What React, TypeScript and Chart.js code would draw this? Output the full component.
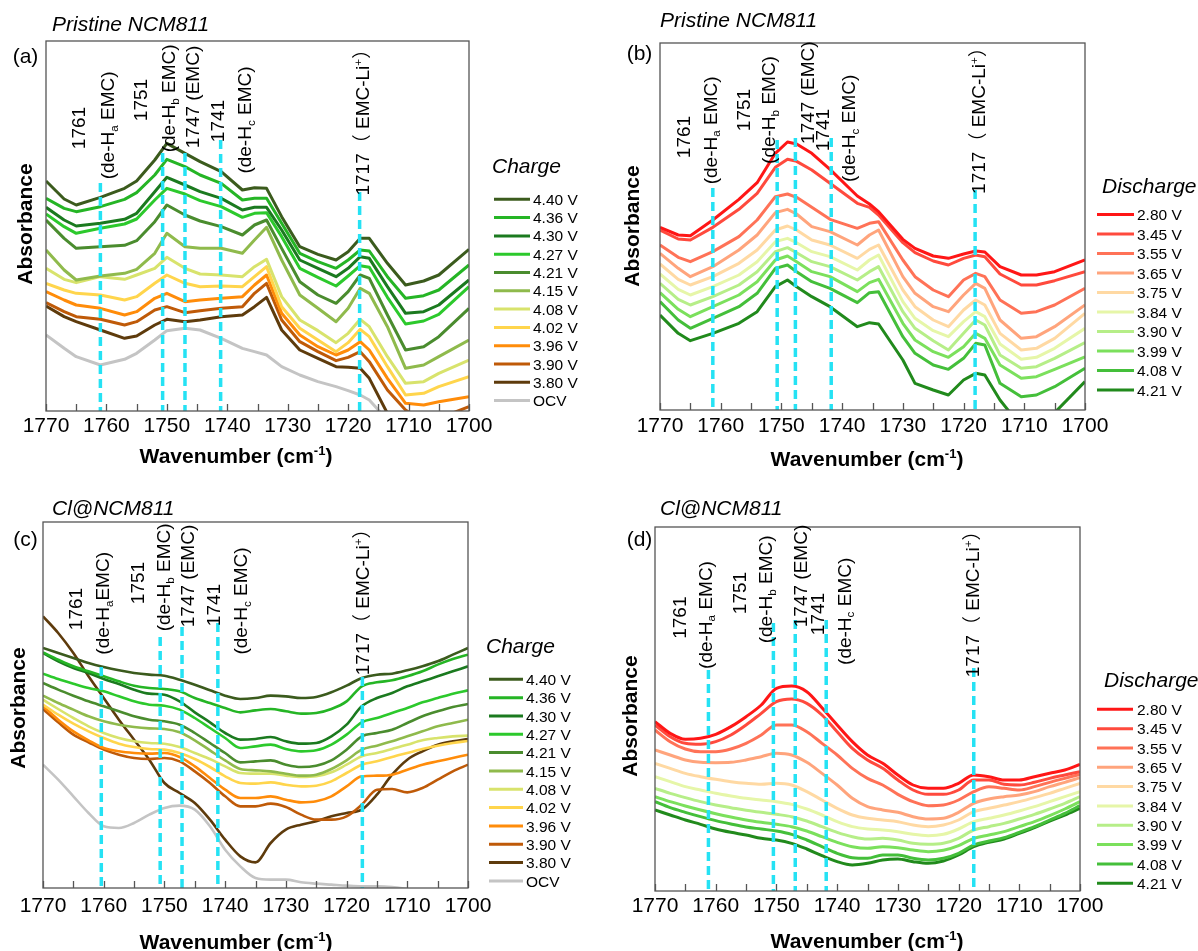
import React, { useEffect, useRef } from "react";
import { Chart, registerables } from "chart.js";

Chart.register(...registerables);

const FAMILY = '"Liberation Sans", Arial, "Noto Sans CJK SC", sans-serif';

// ---------------- shared ----------------
const X_TICK_LABELS = [1700, 1710, 1720, 1730, 1740, 1750, 1760, 1770];
const CHARGE_NAMES = ["4.40 V", "4.36 V", "4.30 V", "4.27 V", "4.21 V", "4.15 V", "4.08 V", "4.02 V", "3.96 V", "3.90 V", "3.80 V", "OCV"];
const CHARGE_COLORS = ["#3b5b1d", "#25b525", "#1b7a1f", "#2cc92c", "#4a8c2e", "#8fba4c", "#d8e36c", "#ffd54c", "#ff8c0a", "#bf5a08", "#5e3b0c", "#c4c4c4"];
const DISCHARGE_NAMES = ["2.80 V", "3.45 V", "3.55 V", "3.65 V", "3.75 V", "3.84 V", "3.90 V", "3.99 V", "4.08 V", "4.21 V"];
const DISCHARGE_COLORS = ["#ff1616", "#ff4a3d", "#ff7257", "#ffa47c", "#ffd9a3", "#e6f6a8", "#b6ee88", "#7be05c", "#44bf3a", "#218a1c"];
const DASH_COLOR = "#25e2f4";

// ---------------- panel (a): Pristine NCM811, charge ----------------
const A_WN = [1770, 1767, 1765, 1761, 1757, 1755, 1752, 1750, 1747, 1744.5, 1741, 1737.5, 1735.5, 1733.5, 1731, 1728, 1725, 1722, 1720, 1718, 1716.5, 1713.5, 1710.5, 1707.5, 1705, 1700];
const A_440 = [69.0, 63.6, 61.8, 64.1, 66.8, 69.0, 75.3, 80.3, 77.3, 74.8, 71.8, 66.3, 67.0, 66.8, 58.3, 49.3, 47.0, 45.3, 47.8, 51.8, 51.8, 44.3, 37.8, 39.0, 40.8, 48.5];
const A_436 = [63.8, 60.8, 59.8, 61.3, 63.5, 65.5, 70.8, 75.5, 73.3, 70.8, 68.3, 63.3, 63.8, 63.8, 56.3, 47.3, 44.8, 42.8, 45.3, 48.3, 48.0, 40.3, 33.8, 34.6, 36.3, 43.8];
const A_430 = [61.1, 57.3, 55.5, 56.3, 57.5, 59.3, 65.8, 70.1, 67.8, 65.8, 63.8, 60.3, 61.1, 61.1, 54.3, 45.3, 42.8, 40.3, 42.8, 46.3, 45.8, 37.3, 29.3, 29.8, 31.8, 39.3];
const A_427 = [59.1, 55.3, 53.3, 54.8, 56.1, 57.6, 63.3, 66.8, 65.1, 63.1, 61.3, 58.1, 59.3, 59.5, 52.3, 42.8, 40.1, 37.5, 40.5, 43.6, 43.1, 34.1, 26.1, 27.0, 29.0, 37.3];
const A_421 = [57.3, 51.8, 48.8, 49.3, 49.7, 51.1, 56.8, 61.8, 58.8, 57.0, 55.3, 52.8, 55.8, 57.3, 48.8, 38.8, 34.8, 32.3, 35.8, 40.8, 39.8, 28.8, 18.3, 19.3, 22.3, 30.8];
const A_415 = [48.3, 42.3, 39.3, 40.5, 41.3, 42.5, 47.3, 53.3, 49.3, 48.8, 48.8, 47.3, 51.3, 55.1, 45.3, 34.8, 30.8, 26.8, 30.8, 36.8, 35.3, 25.3, 12.8, 13.8, 16.3, 21.3];
const A_408 = [42.8, 39.5, 38.5, 40.3, 39.5, 40.8, 42.8, 46.1, 42.8, 41.1, 40.8, 40.3, 43.3, 45.5, 34.3, 27.3, 24.1, 20.5, 23.3, 27.5, 25.3, 16.3, 8.3, 8.8, 11.3, 15.3];
const A_402 = [38.3, 36.3, 35.3, 34.8, 33.3, 34.3, 38.3, 40.8, 38.3, 37.3, 37.5, 37.3, 40.3, 43.3, 31.3, 24.8, 21.3, 17.8, 20.5, 24.5, 22.3, 13.3, 4.8, 5.3, 7.3, 10.3];
const A_396 = [35.8, 33.3, 31.8, 30.8, 28.8, 29.8, 33.8, 35.3, 32.8, 33.3, 33.8, 34.3, 37.8, 40.8, 29.3, 22.8, 19.3, 16.8, 18.3, 20.8, 18.3, 9.8, 2.3, 1.8, 2.8, 4.3];
const A_390 = [32.5, 29.8, 28.3, 27.5, 25.8, 26.8, 30.3, 31.3, 29.5, 30.1, 30.8, 31.3, 35.3, 38.3, 27.3, 20.8, 17.8, 15.1, 16.1, 17.8, 14.8, 6.3, 0.3, -3.2, -2.2, 1.3];
const A_380 = [31.5, 28.3, 26.8, 24.3, 21.8, 22.5, 25.8, 27.5, 26.8, 27.3, 28.3, 28.8, 31.3, 34.1, 24.3, 18.3, 15.8, 13.3, 13.1, 12.8, 9.8, -0.7, -8.7, -10.7, -7.7, -2.7];
const A_OCV = [22.8, 18.8, 16.3, 13.8, 15.5, 17.3, 21.3, 24.1, 24.8, 24.3, 21.8, 18.8, 17.8, 16.8, 13.3, 10.8, 8.8, 7.3, 6.1, 4.8, 3.3, -2.7, -7.7, -11.7, -12.7, -12.7];
const A_DASH_X = [1761, 1750.7, 1747, 1741.1, 1718.1];
const A_DASH_TOP = [68.4, 77.4, 77.4, 81.3, 65.7];

// ---------------- panel (b): Pristine NCM811, discharge ----------------
const B_WN = [1770, 1767, 1765, 1761.3, 1757, 1754, 1751, 1749, 1747.5, 1745, 1742, 1737.5, 1735.5, 1734, 1730, 1728, 1725, 1722.5, 1720, 1718, 1716.5, 1714, 1710.5, 1708, 1705, 1700];
const B_280 = [54.8, 52.5, 52.3, 57.0, 63.2, 68.2, 77.0, 80.4, 79.8, 77.0, 72.2, 64.2, 61.8, 59.5, 51.2, 48.5, 46.2, 45.5, 46.8, 47.7, 47.4, 43.0, 40.5, 40.5, 41.5, 45.0];
const B_345 = [54.0, 51.3, 51.0, 54.8, 60.2, 65.0, 72.8, 75.2, 74.6, 72.0, 68.0, 62.0, 60.8, 58.5, 50.2, 47.2, 44.7, 43.5, 45.5, 46.5, 46.0, 40.8, 37.5, 37.5, 38.8, 41.5];
const B_355 = [49.5, 45.8, 44.5, 47.5, 52.0, 57.0, 64.0, 64.8, 63.8, 60.8, 57.2, 54.5, 56.0, 56.5, 45.0, 40.0, 36.0, 34.0, 39.0, 41.0, 40.0, 33.0, 29.0, 29.5, 31.5, 36.5];
const B_365 = [47.0, 42.5, 40.0, 43.0, 48.0, 52.5, 59.2, 60.2, 58.8, 55.0, 53.5, 49.5, 52.5, 54.0, 40.0, 35.0, 31.0, 29.5, 34.5, 38.0, 36.5, 27.0, 21.5, 22.0, 25.0, 31.5];
const B_375 = [43.8, 39.2, 37.5, 40.0, 44.0, 48.0, 54.0, 55.2, 54.0, 51.0, 49.5, 45.5, 48.2, 49.5, 36.0, 31.0, 27.0, 25.0, 30.0, 33.0, 31.5, 23.0, 18.0, 18.5, 21.5, 29.0];
const B_384 = [40.8, 36.2, 34.5, 37.0, 40.5, 44.5, 50.5, 51.5, 50.2, 47.5, 46.0, 42.0, 45.0, 46.5, 32.5, 27.5, 23.8, 22.0, 26.5, 29.5, 28.0, 19.8, 15.2, 15.8, 18.5, 24.5];
const B_390 = [38.0, 33.2, 31.5, 34.0, 37.5, 41.5, 47.5, 48.7, 47.2, 44.5, 43.0, 39.0, 41.5, 43.0, 29.5, 24.5, 20.8, 18.0, 23.0, 27.0, 25.5, 16.5, 12.5, 13.0, 15.5, 20.2];
const B_399 = [35.2, 30.2, 28.0, 31.0, 34.5, 38.5, 45.0, 46.2, 44.5, 41.5, 40.0, 35.5, 38.2, 39.2, 26.0, 21.0, 17.5, 15.8, 19.0, 23.0, 21.5, 13.5, 9.5, 10.0, 12.2, 15.9];
const B_408 = [32.5, 27.0, 24.5, 27.5, 31.0, 35.0, 42.5, 43.5, 41.5, 38.5, 36.5, 32.2, 35.2, 35.5, 22.0, 17.0, 13.5, 12.2, 15.5, 20.0, 19.5, 8.0, 4.0, 4.5, 7.0, 12.5];
const B_421 = [28.5, 23.0, 20.8, 23.0, 26.0, 29.5, 37.0, 39.0, 37.0, 34.0, 31.0, 25.0, 26.2, 25.8, 15.0, 8.0, 6.0, 4.5, 9.0, 11.0, 10.5, 3.0, -5.0, -9.0, -0.8, 8.5];
const B_DASH_X = [1761.3, 1750.7, 1747.7, 1741.8, 1718.1];
const B_DASH_TOP = [66.6, 81.0, 81.6, 81.6, 66.0];

// ---------------- panel (c): Cl@NCM811, charge ----------------
const C_WN = [1770, 1767.5, 1765, 1762.5, 1760, 1757.5, 1755, 1752.5, 1750, 1747.5, 1745, 1742.5, 1740, 1737.5, 1735, 1732.5, 1730, 1727.5, 1725, 1722.5, 1720, 1717.5, 1715, 1712.5, 1710, 1707.5, 1705, 1702.5, 1700];
const C_440 = [72.0, 70.5, 69.0, 67.5, 66.3, 65.3, 64.5, 64.0, 63.7, 62.5, 61.0, 59.3, 57.7, 56.7, 57.0, 57.7, 57.5, 57.0, 57.3, 58.7, 60.7, 63.0, 64.0, 64.3, 65.3, 66.5, 68.0, 70.0, 72.0];
const C_436 = [70.7, 68.5, 66.5, 65.0, 63.5, 62.0, 60.7, 60.0, 59.7, 59.0, 57.0, 55.5, 54.0, 52.7, 53.3, 53.7, 53.0, 52.3, 52.5, 53.7, 56.0, 60.5, 61.7, 62.3, 63.5, 65.0, 67.0, 68.7, 70.0];
const C_430 = [70.5, 68.0, 66.0, 64.5, 62.7, 61.2, 59.5, 58.3, 58.0, 56.0, 52.7, 49.7, 46.5, 44.5, 44.7, 45.3, 44.0, 43.3, 43.5, 45.5, 49.0, 54.5, 57.0, 58.5, 60.5, 62.0, 63.5, 65.0, 66.5];
const C_427 = [64.3, 62.7, 61.3, 60.0, 59.0, 57.5, 56.0, 55.0, 54.7, 53.5, 51.0, 48.0, 45.0, 42.0, 42.5, 43.0, 41.7, 41.0, 41.3, 43.0, 46.0, 49.7, 51.0, 52.5, 54.0, 55.7, 57.0, 58.3, 59.3];
const C_421 = [61.5, 59.5, 57.7, 56.0, 54.5, 53.0, 51.5, 50.5, 50.0, 49.0, 46.5, 43.5, 40.5, 37.7, 38.0, 38.3, 37.0, 36.3, 36.7, 38.3, 41.5, 45.5, 46.5, 47.5, 49.5, 51.5, 53.0, 54.3, 55.2];
const C_415 = [57.7, 55.5, 53.5, 51.5, 50.0, 49.0, 48.3, 47.9, 47.7, 46.7, 44.3, 41.3, 38.3, 35.7, 35.3, 35.0, 34.3, 33.7, 34.0, 35.7, 38.3, 41.5, 42.7, 44.0, 45.5, 47.0, 48.5, 49.5, 50.5];
const C_408 = [56.5, 53.7, 51.0, 48.5, 46.5, 45.0, 44.0, 43.5, 43.3, 42.3, 40.5, 38.7, 36.5, 34.5, 34.3, 34.3, 33.7, 33.3, 33.5, 34.7, 37.0, 39.5, 40.5, 41.7, 43.0, 44.3, 45.0, 45.5, 45.7];
const C_402 = [55.0, 52.0, 49.3, 47.0, 45.0, 43.3, 42.3, 41.7, 41.5, 40.5, 38.7, 36.3, 33.5, 31.5, 31.3, 31.7, 31.0, 30.5, 30.7, 32.0, 34.5, 37.0, 38.0, 39.3, 40.5, 41.7, 42.7, 43.5, 44.1];
const C_396 = [54.5, 50.5, 47.0, 44.3, 42.0, 41.0, 40.5, 40.3, 40.5, 39.3, 36.5, 33.0, 29.5, 27.0, 27.0, 27.5, 26.5, 25.7, 26.0, 27.5, 30.5, 33.5, 33.7, 34.0, 35.5, 37.0, 38.0, 39.0, 40.0];
const C_390 = [53.7, 49.7, 46.0, 43.7, 41.5, 40.0, 39.0, 38.7, 39.0, 38.0, 35.0, 31.5, 27.5, 24.5, 24.5, 25.3, 24.3, 22.0, 20.5, 20.5, 21.5, 25.0, 29.5, 29.7, 28.7, 30.0, 32.5, 35.0, 37.0];
const C_380 = [81.5, 76.5, 70.5, 63.5, 57.0, 50.5, 44.5, 38.5, 31.5, 28.5, 25.5, 20.5, 14.5, 9.5, 7.7, 13.5, 17.5, 19.0, 20.0, 21.5, 22.5, 23.5, 28.0, 34.0, 38.5, 41.0, 43.0, 44.0, 44.7];
const C_OCV = [37.0, 32.5, 27.5, 22.5, 18.5, 18.0, 19.5, 22.0, 24.0, 24.7, 23.5, 18.5, 11.5, 6.5, 3.0, 2.5, 2.5, 1.7, 1.3, 1.0, 0.7, 0.5, 0.5, 0.3, -0.3, -1.0, -1.5, -2.0, -2.5];
const C_DASH_X = [1760.4, 1750.7, 1747.1, 1741.2, 1717.4];
const C_DASH_TOP = [66.3, 75.3, 78.3, 79.5, 63.3];

// ---------------- panel (d): Cl@NCM811, discharge ----------------
const D_WN = [1770, 1767.5, 1765, 1762.5, 1760, 1757.5, 1755, 1752.5, 1750, 1747.5, 1745, 1742.5, 1740, 1737.5, 1735, 1732.5, 1730, 1727.5, 1725, 1722.5, 1720, 1717.5, 1715, 1712.5, 1710, 1707.5, 1705, 1702.5, 1700];
const D_280 = [50.8, 47.3, 45.5, 45.8, 47.0, 49.3, 52.3, 55.8, 60.8, 61.5, 59.8, 55.0, 49.8, 44.8, 40.8, 38.3, 34.8, 31.8, 30.8, 30.8, 32.3, 34.8, 34.3, 33.3, 33.3, 34.3, 35.3, 36.3, 38.0];
const D_345 = [49.8, 46.3, 44.3, 44.0, 44.8, 46.8, 49.8, 53.3, 56.8, 57.6, 56.3, 52.8, 47.8, 42.8, 39.3, 36.8, 33.3, 30.3, 29.0, 29.0, 30.3, 33.3, 33.3, 32.0, 31.8, 32.6, 33.8, 34.8, 35.8];
const D_355 = [48.3, 44.8, 42.6, 41.8, 41.8, 42.6, 44.3, 46.8, 49.8, 49.8, 47.8, 44.3, 40.8, 36.8, 33.8, 31.8, 29.0, 26.8, 25.6, 25.8, 27.3, 29.8, 31.3, 30.8, 30.3, 31.3, 32.6, 33.8, 35.0];
const D_365 = [42.3, 40.8, 39.3, 38.6, 38.5, 38.6, 39.3, 40.3, 41.3, 40.8, 38.6, 35.3, 31.8, 27.8, 25.3, 24.3, 23.6, 22.3, 21.6, 21.8, 23.6, 26.3, 27.6, 28.3, 28.8, 29.8, 31.3, 32.6, 34.0];
const D_375 = [38.3, 36.8, 35.3, 34.3, 33.5, 32.8, 32.3, 32.0, 32.3, 31.8, 29.8, 27.3, 24.8, 22.8, 21.8, 21.3, 20.8, 19.8, 19.3, 19.8, 21.3, 23.8, 24.8, 25.8, 26.8, 28.0, 29.3, 30.8, 32.3];
const D_384 = [34.3, 32.8, 31.3, 30.3, 29.3, 28.5, 27.8, 27.3, 26.8, 26.0, 24.6, 22.8, 20.8, 19.3, 18.6, 18.3, 17.8, 17.0, 16.6, 17.0, 18.6, 20.8, 21.8, 22.8, 24.0, 25.3, 26.8, 28.3, 29.8];
const D_390 = [30.8, 29.3, 28.0, 26.8, 25.8, 25.0, 24.2, 23.6, 23.0, 22.3, 21.0, 19.3, 17.6, 16.3, 15.6, 15.8, 15.3, 14.3, 14.0, 14.3, 15.8, 18.3, 19.3, 20.3, 21.6, 23.0, 24.6, 26.3, 28.3];
const D_399 = [28.3, 26.8, 25.5, 24.3, 23.2, 22.2, 21.3, 20.6, 20.0, 19.3, 18.0, 16.3, 14.6, 13.3, 12.8, 13.3, 13.0, 12.3, 11.8, 12.2, 13.6, 15.8, 16.8, 17.8, 19.3, 20.8, 22.6, 24.6, 26.8];
const D_408 = [26.8, 25.0, 23.6, 22.3, 21.1, 20.1, 19.2, 18.6, 18.0, 17.0, 15.3, 13.3, 11.3, 10.0, 9.8, 10.8, 10.8, 9.8, 9.3, 9.8, 11.3, 13.8, 15.0, 16.0, 17.6, 19.3, 21.3, 23.3, 25.6];
const D_421 = [24.3, 22.8, 21.3, 20.0, 18.6, 17.6, 16.8, 15.8, 15.3, 14.3, 12.6, 10.6, 8.8, 7.8, 8.3, 9.3, 9.6, 8.8, 8.3, 9.0, 10.8, 13.3, 14.6, 15.6, 17.3, 19.0, 21.0, 22.8, 24.8];
const D_DASH_X = [1761.2, 1750.5, 1746.9, 1741.8, 1717.5];
const D_DASH_TOP = [66.3, 80.4, 81.3, 81.3, 66.9];

// ---------------- annotation text ----------------
type Part = { t: string; s?: "sub" | "sup" };
type Label = { parts: Part[]; x: number; y: number };

const T_1761: Part[] = [{ t: "1761" }];
const T_HA: Part[] = [{ t: "(de-H" }, { t: "a", s: "sub" }, { t: " EMC)" }];
const T_HA_C: Part[] = [{ t: "(de-H" }, { t: "a", s: "sub" }, { t: "EMC)" }];
const T_1751: Part[] = [{ t: "1751" }];
const T_HB: Part[] = [{ t: "(de-H" }, { t: "b", s: "sub" }, { t: " EMC)" }];
const T_1747: Part[] = [{ t: "1747 (EMC)" }];
const T_1741: Part[] = [{ t: "1741" }];
const T_HC: Part[] = [{ t: "(de-H" }, { t: "c", s: "sub" }, { t: " EMC)" }];
const T_1717: Part[] = [{ t: "1717（ EMC-Li" }, { t: "+", s: "sup" }, { t: "）" }];

const LBL_A: Label[] = [
  { parts: T_1761, x: 1764.7, y: 84.9 },
  { parts: T_HA, x: 1759.9, y: 85.7 },
  { parts: T_1751, x: 1754.4, y: 93.3 },
  { parts: T_HB, x: 1749.8, y: 93.8 },
  { parts: T_1747, x: 1745.8, y: 94.2 },
  { parts: T_1741, x: 1741.7, y: 87.0 },
  { parts: T_HC, x: 1737.2, y: 87.3 },
  { parts: T_1717, x: 1717.7, y: 88.0 },
];
const LBL_B: Label[] = [
  { parts: T_1761, x: 1766.2, y: 81.9 },
  { parts: T_HA, x: 1761.8, y: 83.9 },
  { parts: T_1751, x: 1756.3, y: 90.0 },
  { parts: T_HB, x: 1752.2, y: 90.0 },
  { parts: T_1747, x: 1745.8, y: 95.2 },
  { parts: T_1741, x: 1743.3, y: 84.0 },
  { parts: T_HC, x: 1739.0, y: 84.5 },
  { parts: T_1717, x: 1717.6, y: 88.2 },
];
const LBL_C: Label[] = [
  { parts: T_1761, x: 1764.7, y: 83.7 },
  { parts: T_HA_C, x: 1760.2, y: 85.4 },
  { parts: T_1751, x: 1754.5, y: 91.5 },
  { parts: T_HB, x: 1750.2, y: 93.2 },
  { parts: T_1747, x: 1746.2, y: 93.6 },
  { parts: T_1741, x: 1741.9, y: 84.9 },
  { parts: T_HC, x: 1737.5, y: 86.1 },
  { parts: T_1717, x: 1717.4, y: 87.2 },
];
const LBL_D: Label[] = [
  { parts: T_1761, x: 1766.1, y: 82.0 },
  { parts: T_HA, x: 1761.8, y: 82.8 },
  { parts: T_1751, x: 1756.2, y: 89.4 },
  { parts: T_HB, x: 1751.9, y: 90.5 },
  { parts: T_1747, x: 1746.1, y: 94.5 },
  { parts: T_1741, x: 1743.3, y: 83.1 },
  { parts: T_HC, x: 1738.9, y: 83.9 },
  { parts: T_1717, x: 1717.8, y: 87.5 },
];

// ---------------- drawing helpers ----------------
type RichOpts = { rot?: boolean; align?: "center" | "left"; style?: string; weight?: string; color?: string };

function drawRich(ctx: CanvasRenderingContext2D, parts: Part[], x: number, y: number, size: number, o: RichOpts) {
  const style = o.style || "normal";
  const weight = o.weight || "normal";
  const fontOf = (p: Part) => `${style} ${weight} ${p.s ? size * 0.62 : size}px ${FAMILY}`;
  const widths = parts.map((p) => {
    ctx.font = fontOf(p);
    return ctx.measureText(p.t).width;
  });
  const total = widths.reduce((a, b) => a + b, 0);
  ctx.save();
  ctx.translate(x, y);
  if (o.rot) ctx.rotate(-Math.PI / 2);
  ctx.fillStyle = o.color || "#000";
  ctx.textBaseline = "alphabetic";
  ctx.textAlign = "left";
  let cx = o.align === "left" ? 0 : -total / 2;
  const base = size * 0.36;
  parts.forEach((p, i) => {
    ctx.font = fontOf(p);
    const dy = p.s === "sub" ? size * 0.2 : p.s === "sup" ? -size * 0.38 : 0;
    ctx.fillText(p.t, cx, base + dy);
    cx += widths[i];
  });
  ctx.restore();
}

type PanelCfg = {
  left: number; top: number; w: number; h: number;
  pad: { left: number; right: number; top: number; bottom: number };
  tickPad: number; yMax: number;
  wn: number[]; series: number[][]; names: string[]; colors: string[];
  lineW: number; tension: number; monotone: boolean;
  dashX: number[]; dashTop: number[]; labels: Label[];
  title: string; titlePos: [number, number];
  letter: string; letterPos: [number, number];
  yTitlePos: [number, number]; xTitlePos: [number, number];
  legTitle: string; legTitlePos: [number, number];
  legLine: [number, number]; legTextX: number; legY0: number; legDy: number;
};

const PANELS: PanelCfg[] = [
  {
    left: 0, top: 0, w: 599, h: 475,
    pad: { left: 46, right: 130, top: 41, bottom: 24 }, tickPad: 3, yMax: 111,
    wn: A_WN, series: [A_440, A_436, A_430, A_427, A_421, A_415, A_408, A_402, A_396, A_390, A_380, A_OCV],
    names: CHARGE_NAMES, colors: CHARGE_COLORS, lineW: 3, tension: 0, monotone: false,
    dashX: A_DASH_X, dashTop: A_DASH_TOP, labels: LBL_A,
    title: "Pristine NCM811", titlePos: [52, 23], letter: "(a)", letterPos: [25.5, 55],
    yTitlePos: [24, 224], xTitlePos: [236, 455],
    legTitle: "Charge", legTitlePos: [492, 165], legLine: [494, 530], legTextX: 533, legY0: 199.3, legDy: 18.3,
  },
  {
    left: 599, top: 0, w: 599, h: 475,
    pad: { left: 61, right: 113, top: 43, bottom: 25 }, tickPad: 4, yMax: 110.1,
    wn: B_WN, series: [B_280, B_345, B_355, B_365, B_375, B_384, B_390, B_399, B_408, B_421],
    names: DISCHARGE_NAMES, colors: DISCHARGE_COLORS, lineW: 3, tension: 0, monotone: false,
    dashX: B_DASH_X, dashTop: B_DASH_TOP, labels: LBL_B,
    title: "Pristine NCM811", titlePos: [61, 19], letter: "(b)", letterPos: [40.5, 52.5],
    yTitlePos: [32, 226], xTitlePos: [268, 458],
    legTitle: "Discharge", legTitlePos: [503, 185], legLine: [498, 535], legTextX: 538, legY0: 214.5, legDy: 19.5,
  },
  {
    left: 0, top: 475, w: 599, h: 476,
    pad: { left: 43, right: 131, top: 47, bottom: 23 }, tickPad: 6, yMax: 109.8,
    wn: C_WN, series: [C_440, C_436, C_430, C_427, C_421, C_415, C_408, C_402, C_396, C_390, C_380, C_OCV],
    names: CHARGE_NAMES, colors: CHARGE_COLORS, lineW: 2.6, tension: 0, monotone: true,
    dashX: C_DASH_X, dashTop: C_DASH_TOP, labels: LBL_C,
    title: "Cl@NCM811", titlePos: [52, 32], letter: "(c)", letterPos: [25.5, 63],
    yTitlePos: [17, 233], xTitlePos: [236, 466],
    legTitle: "Charge", legTitlePos: [486, 170], legLine: [489, 523], legTextX: 526, legY0: 204.3, legDy: 18.33,
  },
  {
    left: 599, top: 475, w: 599, h: 476,
    pad: { left: 56, right: 118, top: 52, bottom: 20 }, tickPad: 3, yMax: 109.2,
    wn: D_WN, series: [D_280, D_345, D_355, D_365, D_375, D_384, D_390, D_399, D_408, D_421],
    names: DISCHARGE_NAMES, colors: DISCHARGE_COLORS, lineW: 3, tension: 0, monotone: true,
    dashX: D_DASH_X, dashTop: D_DASH_TOP, labels: LBL_D,
    title: "Cl@NCM811", titlePos: [61, 32], letter: "(d)", letterPos: [40.5, 63],
    yTitlePos: [30, 241], xTitlePos: [268, 465],
    legTitle: "Discharge", legTitlePos: [505, 204], legLine: [498, 534], legTextX: 538, legY0: 234.3, legDy: 19.33,
  },
];

function makeDecor(cfg: PanelCfg) {
  return {
    id: "panelDecor",
    afterDraw(chart: any) {
      const ctx: CanvasRenderingContext2D = chart.ctx;
      const a = chart.chartArea;
      const xs = chart.scales.x;
      const ys = chart.scales.y;
      ctx.save();
      // frame
      ctx.strokeStyle = "#555";
      ctx.lineWidth = 1.3;
      ctx.strokeRect(a.left, a.top, a.right - a.left, a.bottom - a.top);
      // inward tick marks
      ctx.beginPath();
      xs.ticks.forEach((t: any) => {
        const px = Math.round(xs.getPixelForValue(t.value)) + 0.5;
        ctx.moveTo(px, a.bottom);
        ctx.lineTo(px, a.bottom - 7);
      });
      ctx.stroke();
      ctx.restore();
      // peak annotations
      cfg.labels.forEach((l) => {
        drawRich(ctx, l.parts, xs.getPixelForValue(l.x), ys.getPixelForValue(l.y), 19, { rot: true });
      });
      // titles
      drawRich(ctx, [{ t: cfg.title }], cfg.titlePos[0], cfg.titlePos[1], 21, { align: "left", style: "italic" });
      drawRich(ctx, [{ t: cfg.letter }], cfg.letterPos[0], cfg.letterPos[1], 21, {});
      drawRich(ctx, [{ t: "Absorbance" }], cfg.yTitlePos[0], cfg.yTitlePos[1], 21, { rot: true, weight: "bold" });
      drawRich(ctx, [{ t: "Wavenumber (cm" }, { t: "-1", s: "sup" }, { t: ")" }], cfg.xTitlePos[0], cfg.xTitlePos[1], 21, { weight: "bold" });
      // legend
      drawRich(ctx, [{ t: cfg.legTitle }], cfg.legTitlePos[0], cfg.legTitlePos[1], 21, { align: "left", style: "italic" });
      cfg.names.forEach((name, i) => {
        const y = cfg.legY0 + i * cfg.legDy;
        ctx.save();
        ctx.strokeStyle = cfg.colors[i];
        ctx.lineWidth = 3;
        ctx.beginPath();
        ctx.moveTo(cfg.legLine[0], y);
        ctx.lineTo(cfg.legLine[1], y);
        ctx.stroke();
        ctx.restore();
        drawRich(ctx, [{ t: name }], cfg.legTextX, y, 15.5, { align: "left" });
      });
    },
  };
}

function buildConfig(cfg: PanelCfg): any {
  const dashSets = cfg.dashX.map((x, i) => ({
    label: "ref" + i,
    data: [{ x, y: cfg.dashTop[i] }, { x, y: -3 }],
    borderColor: DASH_COLOR,
    borderWidth: 3.5,
    borderDash: [9, 5],
    pointRadius: 0,
    tension: 0,
    clip: 0,
    order: 0,
    fill: false,
  }));
  const curveSets = cfg.series.map((vals, i) => ({
    label: cfg.names[i],
    data: vals.map((y, j) => ({ x: cfg.wn[j], y })),
    borderColor: cfg.colors[i],
    borderWidth: cfg.lineW,
    pointRadius: 0,
    tension: cfg.tension,
    cubicInterpolationMode: cfg.monotone ? "monotone" : "default",
    borderJoinStyle: "round",
    clip: 0,
    order: 1,
    fill: false,
  }));
  return {
    type: "line",
    data: { datasets: [...dashSets, ...curveSets] },
    options: {
      responsive: false,
      animation: false,
      devicePixelRatio: 1,
      events: [],
      layout: { padding: cfg.pad },
      plugins: { legend: { display: false }, tooltip: { enabled: false } },
      scales: {
        x: {
          type: "linear",
          min: 1700,
          max: 1770,
          reverse: true,
          grid: { display: false, drawTicks: false },
          border: { display: false },
          ticks: {
            stepSize: 5,
            autoSkip: false,
            maxRotation: 0,
            minRotation: 0,
            padding: cfg.tickPad,
            color: "#000",
            font: { family: FAMILY, size: 21 },
            callback: (v: any) => (X_TICK_LABELS.includes(Number(v)) ? String(v) : ""),
          },
          afterFit: (s: any) => {
            s.height = 40;
          },
        },
        y: { type: "linear", min: 0, max: cfg.yMax, display: false },
      },
    },
    plugins: [makeDecor(cfg)],
  };
}

function PanelChart({ cfg }: { cfg: PanelCfg }) {
  const ref = useRef<HTMLCanvasElement>(null);
  useEffect(() => {
    if (!ref.current) return;
    const chart = new Chart(ref.current, buildConfig(cfg));
    return () => chart.destroy();
  }, [cfg]);
  return (
    <canvas
      ref={ref}
      width={cfg.w}
      height={cfg.h}
      style={{ position: "absolute", left: cfg.left, top: cfg.top, width: cfg.w, height: cfg.h }}
    />
  );
}

export default function App() {
  return (
    <div style={{ position: "absolute", left: 0, top: 0, width: 1198, height: 951, background: "#fff", overflow: "hidden" }}>
      {PANELS.map((p, i) => (
        <PanelChart key={i} cfg={p} />
      ))}
    </div>
  );
}
